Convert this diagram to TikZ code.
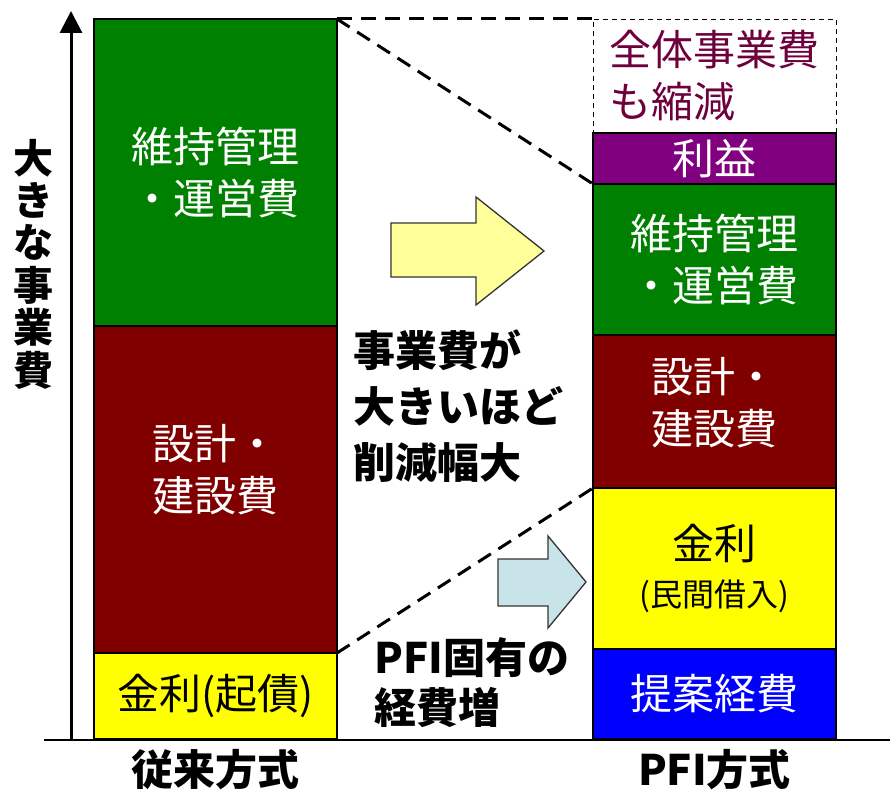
\documentclass[tikz,border=0pt]{standalone}
\usepackage{fontspec}
\setmainfont{Noto Sans CJK JP}
\usetikzlibrary{arrows.meta,positioning}
\definecolor{mgreen}{RGB}{0,128,0}
\definecolor{dred}{RGB}{128,0,0}
\definecolor{myellow}{RGB}{255,255,0}
\definecolor{mpurple}{RGB}{128,0,128}
\definecolor{mblue}{RGB}{0,0,255}
\definecolor{lyellow}{RGB}{255,255,153}
\definecolor{lblue}{RGB}{200,228,232}
\definecolor{maroon}{RGB}{110,0,60}

\begin{document}
\begin{tikzpicture}[x=1pt, y=1pt,
  block/.style={draw=black, line width=1.2pt, minimum width=243pt, outer sep=0pt, inner sep=0pt, align=center, text=white, font=\fontsize{42}{52}\selectfont},
  blocktxt/.style={inner sep=0pt, align=center, text=white, font=\fontsize{42}{52}\selectfont},
  dashbox/.style={line width=0.8pt, dash pattern=on 5pt off 4pt, text=maroon, align=left},
  note/.style={inner sep=0pt, align=left, font=\fontsize{42}{52}\selectfont\bfseries},
  link/.style={line width=3pt, dash pattern=on 15pt off 9pt},
  fatarrow/.style={draw=black!80, line width=1.3pt, line join=miter}]
\useasboundingbox (0,0) rectangle (890,790);

% axis
\coordinate (o) at (71,50);
\coordinate (top) at (71,779);
\draw[line width=3pt, -{Triangle[width=22pt,length=22pt]}] (o) -- (top);
\node[note, align=center, font=\fontsize{40}{42.4}\selectfont\bfseries] (ylab) at (33,526) {大\\き\\な\\事\\業\\費};

% conventional
\node[block, fill=mgreen, minimum height=307pt, anchor=north west] (lmaint) at (94,771) {維持管理\\・運営費};
\node[block, fill=dred, minimum height=327pt, below=0pt of lmaint] (lbuild) {};
\node[blocktxt] (lbuildtxt) at ([yshift=20pt]lbuild.center) {設計・\\建設費};
\node[block, fill=myellow, text=black, minimum height=86pt, below=0pt of lbuild] (lint) {金利(起債)};

% PFI
\node[block, dashbox, minimum height=114pt, anchor=north west] (total) at ([xshift=256pt]lmaint.north east) {全体事業費\\も縮減};
\node[block, fill=mpurple, minimum height=51pt, below=0pt of total] (profit) {利益};
\node[block, fill=mgreen, minimum height=151pt, below=0pt of profit] (rmaint) {維持管理\\・運営費};
\node[block, fill=dred, minimum height=153pt, below=0pt of rmaint] (rbuild) {};
\node[blocktxt] (rbuildtxt) at ([yshift=9pt]rbuild.center) {設計・\\建設費};
\node[block, fill=myellow, text=black, minimum height=161pt, below=0pt of rbuild] (rint) {金利\\[-5pt]{\fontsize{32}{40}\selectfont(民間借入)}};
\node[block, fill=mblue, minimum height=90pt, below=0pt of rint] (bid) {提案経費};

\draw[line width=1.8pt] (44,50) -- (890,50);

\node[note] (conv) at (lint.south |- 0,20) {従来方式};
\node[note] (pfi) at (bid.south |- 0,20) {PFI方式};

% comparison
\draw[link] (lmaint.north east) -- (total.north west);
\draw[link] (lmaint.north east) -- (rmaint.north west);
\draw[link] (lbuild.south east) -- (rint.north west);

\draw[fatarrow, fill=lyellow] (391,513) -- (391,567) -- (476,567) -- (476,593) -- (544,539) -- (476,485) -- (476,513) -- cycle;
\draw[fatarrow, fill=lblue] (498,184) -- (498,231) -- (548,231) -- (548,254) -- (586,208) -- (548,162) -- (548,184) -- cycle;

\node[note, anchor=west, font=\fontsize{42}{56}\selectfont\bfseries] (bigger) at (353,384) {事業費が\\大きいほど\\削減幅大};
\node[note, anchor=west, font=\fontsize{42}{50}\selectfont\bfseries] (extra) at (374,107) {PFI固有の\\経費増};
\end{tikzpicture}
\end{document}
